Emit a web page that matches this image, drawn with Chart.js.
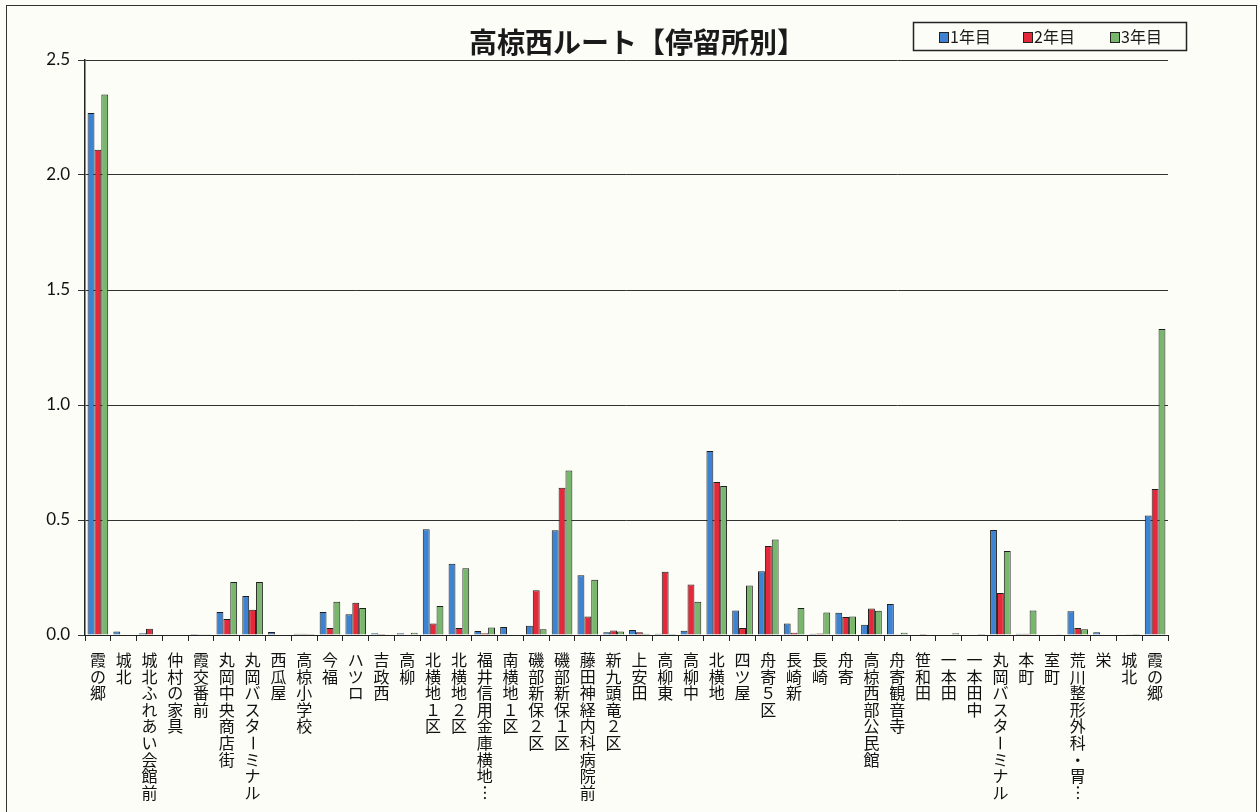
<!DOCTYPE html>
<html>
<head>
<meta charset="utf-8">
<script src="https://cdn.jsdelivr.net/npm/chart.js@4/dist/chart.umd.min.js"></script>
<style>
  html, body { margin: 0; padding: 0; background: #fdfdf8; }
  #frame { position: absolute; left: 6px; top: 5px; width: 1249px; height: 830px; border: 1.5px solid #333; }
  #wrap { position: absolute; left: 0; top: 0; width: 1259px; height: 812px; }
</style>
</head>
<body>
<div id="frame"></div>
<div id="wrap"><canvas id="c" width="1259" height="812"></canvas></div>
<script>
  const stops = [
    '霞の郷', '城北', '城北ふれあい会館前', '仲村の家具', '霞交番前', '丸岡中央商店街',
    '丸岡バスターミナル', '西瓜屋', '高椋小学校', '今福', 'ハツロ', '吉政西', '高柳',
    '北横地１区', '北横地２区', '福井信用金庫横地…', '南横地１区', '磯部新保２区',
    '磯部新保１区', '藤田神経内科病院前', '新九頭竜２区', '上安田', '高柳東', '高柳中',
    '北横地', '四ツ屋', '舟寄５区', '長崎新', '長崎', '舟寄', '高椋西部公民館',
    '舟寄観音寺', '笹和田', '一本田', '一本田中', '丸岡バスターミナル', '本町', '室町',
    '荒川整形外科・胃…', '栄', '城北', '霞の郷'
  ];
  const year1 = [2.27, 0.015, 0.008, 0, 0.004, 0.10, 0.17, 0.013, 0.005, 0.10, 0.09, 0.008, 0.008,
    0.46, 0.31, 0.017, 0.035, 0.04, 0.455, 0.26, 0.012, 0.022, 0.005, 0.018,
    0.80, 0.107, 0.277, 0.05, 0.005, 0.097, 0.045, 0.135, 0, 0.002, 0.002, 0.457, 0.005, 0,
    0.103, 0.012, 0.002, 0.52];
  const year2 = [2.11, 0, 0.027, 0, 0.003, 0.07, 0.11, 0, 0.005, 0.03, 0.14, 0.004, 0.002,
    0.05, 0.03, 0.008, 0, 0.195, 0.64, 0.08, 0.02, 0.012, 0.275, 0.22,
    0.665, 0.03, 0.387, 0.01, 0.007, 0.078, 0.115, 0.003, 0.004, 0.002, 0.002, 0.183, 0.005, 0,
    0.03, 0, 0.003, 0.635];
  const year3 = [2.35, 0, 0, 0, 0.003, 0.23, 0.23, 0, 0.004, 0.145, 0.117, 0, 0.01,
    0.126, 0.29, 0.033, 0, 0.025, 0.715, 0.24, 0.015, 0.005, 0.004, 0.145,
    0.648, 0.215, 0.415, 0.117, 0.098, 0.08, 0.105, 0.01, 0, 0.008, 0.004, 0.365, 0.107, 0.003,
    0.025, 0, 0.004, 1.33];
  const seriesNames = ['1年目', '2年目', '3年目'];
  const seriesColors = ['#3e82d2', '#e42a3a', '#79b86c'];
  const yTicks = [0, 0.5, 1.0, 1.5, 2.0, 2.5];

  const jpFont = '"Noto Sans CJK JP", sans-serif';

  // vertical labels, one char per line; ー and … are turned like in tategaki
  const verticalLabels = {
    id: 'verticalLabels',
    afterDraw(chart) {
      const ctx = chart.ctx;
      const xs = chart.scales.x;
      ctx.save();
      ctx.fillStyle = '#111';
      ctx.font = '16px ' + jpFont;
      ctx.textAlign = 'center';
      ctx.textBaseline = 'middle';
      stops.forEach((name, i) => {
        const x = xs.getPixelForTick(i);
        Array.from(name).forEach((ch, k) => {
          const y = xs.top + 25 + k * 16.6;
          if (ch === 'ー' || ch === '…') {
            ctx.save();
            ctx.translate(x, y);
            ctx.rotate(Math.PI / 2);
            ctx.fillText(ch, 0, 0);
            ctx.restore();
          } else {
            ctx.fillText(ch, x, y);
          }
        });
      });
      ctx.restore();
    }
  };

  const titleAndLegend = {
    id: 'titleAndLegend',
    afterDraw(chart) {
      const ctx = chart.ctx;
      ctx.save();
      ctx.fillStyle = '#1a1a1a';
      ctx.font = 'bold 28px ' + jpFont;
      ctx.textAlign = 'center';
      ctx.textBaseline = 'middle';
      ctx.fillText('高椋西ルート【停留所別】', 637, 42);

      ctx.strokeStyle = '#222';
      ctx.lineWidth = 1.5;
      ctx.strokeRect(913.5, 22.5, 273, 28);
      const itemX = [939, 1023, 1110];
      ctx.font = '16px ' + jpFont;
      ctx.textAlign = 'left';
      seriesNames.forEach((n, i) => {
        ctx.fillStyle = seriesColors[i];
        ctx.fillRect(itemX[i], 32, 9, 10);
        ctx.strokeStyle = '#222';
        ctx.lineWidth = 1;
        ctx.strokeRect(itemX[i] + 0.5, 32.5, 9, 10);
        ctx.fillStyle = '#1a1a1a';
        ctx.fillText(n, itemX[i] + 11, 37);
      });
      ctx.restore();
    }
  };

  new Chart(document.getElementById('c'), {
    type: 'bar',
    data: {
      labels: stops,
      datasets: seriesNames.map((n, i) => ({
        label: n,
        data: [year1, year2, year3][i],
        backgroundColor: seriesColors[i],
        borderColor: '#1e1e1e',
        borderWidth: 1,
        categoryPercentage: 0.8,
        barPercentage: 1.0
      }))
    },
    options: {
      responsive: false,
      animation: false,
      layout: { padding: { left: 0, right: 91, top: 60, bottom: 0 } },
      plugins: { legend: { display: false }, title: { display: false }, tooltip: { enabled: false } },
      scales: {
        x: {
          ticks: { display: false },
          grid: { drawOnChartArea: false, drawTicks: true, tickLength: 6, color: '#222', offset: true },
          border: { color: '#222', width: 1 },
          afterFit(scale) { scale.height = 177; }
        },
        y: {
          min: 0,
          max: 2.5,
          afterBuildTicks(scale) { scale.ticks = yTicks.map(v => ({ value: v })); },
          ticks: {
            color: '#111',
            font: { family: 'Lato', size: 17 },
            padding: 8,
            callback: v => Number(v).toFixed(1)
          },
          grid: { color: '#333', lineWidth: 1, tickLength: 7 },
          border: { color: '#222', width: 1.5 },
          afterFit(scale) { scale.width = 85; }
        }
      }
    },
    plugins: [verticalLabels, titleAndLegend]
  });
</script>
</body>
</html>
